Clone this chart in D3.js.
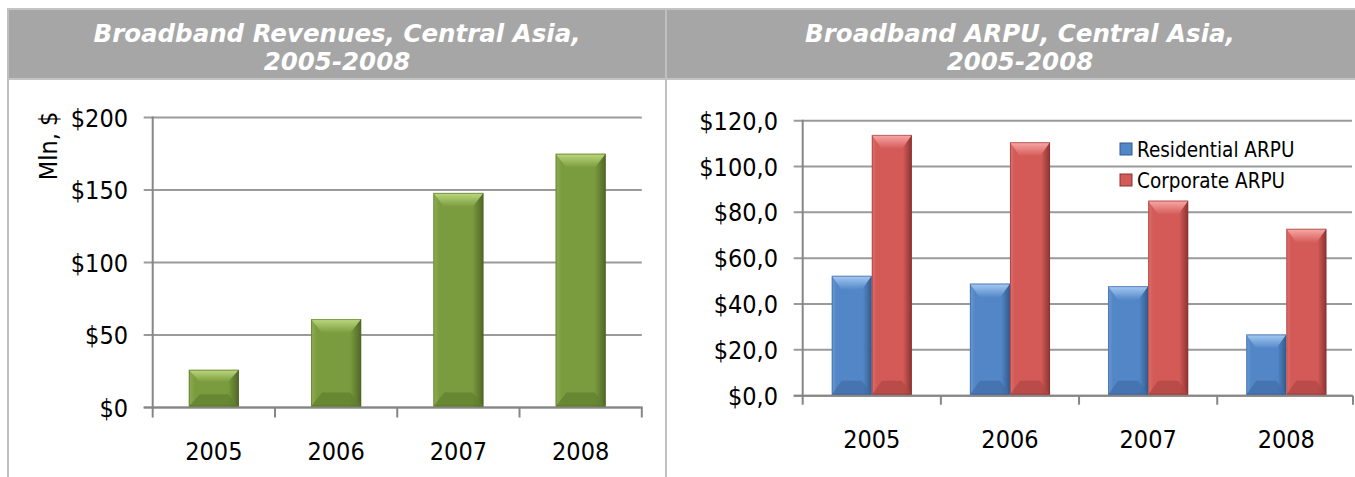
<!DOCTYPE html>
<html>
<head>
<meta charset="utf-8">
<script src="https://cdn.jsdelivr.net/npm/d3@7"></script>
<style>
  html, body { margin: 0; padding: 0; background: #ffffff; }
  svg { display: block; }
  .tick-label { font-family: "DejaVu Sans Condensed", "DejaVu Sans", sans-serif; font-stretch: condensed; fill: #000; }
</style>
</head>
<body>
<svg id="chart" width="1355" height="477"></svg>
<script>
// ---------- DATA ----------
const categories = ["2005", "2006", "2007", "2008"];
const revenues = [26, 61, 148, 175];             // Mln $
const residentialARPU = [52.3, 48.9, 47.8, 26.7];
const corporateARPU = [113.8, 110.6, 85.1, 72.8];
const seriesNames = ["Residential ARPU", "Corporate ARPU"];
const leftTicks = [0, 50, 100, 150, 200];
const rightTicks = [0, 20, 40, 60, 80, 100, 120];
const leftTitle = ["Broadband Revenues, Central Asia,", "2005-2008"];
const rightTitle = ["Broadband ARPU, Central Asia,", "2005-2008"];
const leftYTitle = "Mln, $";

// ---------- SETUP ----------
const svg = d3.select("#chart");
const W = 1355, H = 477;

const defs = svg.append("defs");
const palettes = {
  green: { light: "#bcd97e", main: "#7b9b3f", dark: "#4f6625", side: "#8fae52", bottom: "#62802f" },
  blue:  { light: "#a6cbf5", main: "#5286c6", dark: "#335a8c", side: "#6b9bd6", bottom: "#416ea8" },
  red:   { light: "#f9aaa7", main: "#d35a57", dark: "#8a3331", side: "#de706d", bottom: "#b04744" }
};
Object.entries(palettes).forEach(([k, p]) => {
  const g = defs.append("linearGradient").attr("id", "h-" + k).attr("x1", 0).attr("x2", 1).attr("y1", 0).attr("y2", 0);
  g.append("stop").attr("offset", "0").attr("stop-color", p.side);
  g.append("stop").attr("offset", "0.12").attr("stop-color", p.main);
  g.append("stop").attr("offset", "0.78").attr("stop-color", p.main);
  g.append("stop").attr("offset", "1").attr("stop-color", p.dark);
  const t = defs.append("linearGradient").attr("id", "t-" + k).attr("x1", 0).attr("x2", 0).attr("y1", 0).attr("y2", 1);
  t.append("stop").attr("offset", "0").attr("stop-color", p.light);
  t.append("stop").attr("offset", "1").attr("stop-color", p.main);
});

function bevelBar(g, x, y, w, h, pal) {
  const p = palettes[pal];
  const b = Math.min(11, w / 4), bv = Math.min(14, h / 3);
  g.append("rect").attr("x", x).attr("y", y).attr("width", w).attr("height", h)
    .attr("fill", `url(#h-${pal})`);
  g.append("polygon")
    .attr("points", [[x, y], [x + w, y], [x + w - b, y + bv], [x + b, y + bv]].map(d => d.join(",")).join(" "))
    .attr("fill", `url(#t-${pal})`);
  g.append("polygon")
    .attr("points", [[x, y + h], [x + w, y + h], [x + w - b, y + h - bv], [x + b, y + h - bv]].map(d => d.join(",")).join(" "))
    .attr("fill", p.bottom).attr("opacity", 0.75);
  g.append("rect").attr("x", x + 0.5).attr("y", y + 0.5).attr("width", Math.max(0, w - 1)).attr("height", Math.max(0, h - 1))
    .attr("fill", "none").attr("stroke", p.dark).attr("stroke-opacity", 0.55).attr("stroke-width", 1);
}

// ---------- FRAME / HEADER ----------
svg.append("rect").attr("x", 8).attr("y", 9).attr("width", W - 8 + 2).attr("height", 70)
  .attr("fill", "#a6a6a6").attr("stroke", "#c4c4c4").attr("stroke-width", 2);
svg.append("line").attr("x1", 8).attr("x2", 8).attr("y1", 9).attr("y2", H)
  .attr("stroke", "#c0c0c0").attr("stroke-width", 2);
svg.append("line").attr("x1", 666).attr("x2", 666).attr("y1", 9).attr("y2", H)
  .attr("stroke", "#c0c0c0").attr("stroke-width", 2);

function title(lines, cx) {
  const t = svg.append("text")
    .attr("font-family", '"DejaVu Sans", Verdana, sans-serif')
    .attr("font-weight", "bold").attr("font-style", "italic")
    .attr("font-size", 24.5).attr("fill", "#ffffff").attr("text-anchor", "middle");
  lines.forEach((l, i) => t.append("tspan").attr("x", cx).attr("y", i === 0 ? 42 : 70).text(l));
}
title(leftTitle, 337);
title(rightTitle, 1020);

// ---------- LEFT CHART ----------
const L = { x0: 152.7, x1: 641.8, y0: 407.5, y1: 117.5 };
const xL = d3.scaleBand().domain(categories).range([L.x0, L.x1]).paddingInner(0.59).paddingOuter(0.295);
const yL = d3.scaleLinear().domain([0, 200]).range([L.y0, L.y1]);
const gL = svg.append("g");

gL.selectAll("line.grid").data(leftTicks).join("line")
  .attr("x1", L.x0 - 9).attr("x2", L.x1).attr("y1", d => yL(d)).attr("y2", d => yL(d))
  .attr("stroke", "#9a9a9a").attr("stroke-width", 2);
gL.append("line").attr("x1", L.x0).attr("x2", L.x0).attr("y1", yL(200) - 1).attr("y2", L.y0 + 10)
  .attr("stroke", "#868686").attr("stroke-width", 2);
const boundsL = categories.map(c => xL(c) - xL.step() * xL.paddingInner() / 2).concat([L.x1]);
gL.selectAll("line.xt").data(boundsL.slice(1)).join("line")
  .attr("x1", d => d).attr("x2", d => d).attr("y1", L.y0).attr("y2", L.y0 + 10)
  .attr("stroke", "#868686").attr("stroke-width", 2);
gL.append("line").attr("x1", L.x0 - 9).attr("x2", L.x1 + 1).attr("y1", L.y0).attr("y2", L.y0)
  .attr("stroke", "#868686").attr("stroke-width", 2);

categories.forEach((c, i) => {
  bevelBar(gL, xL(c), yL(revenues[i]), xL.bandwidth(), L.y0 - yL(revenues[i]) - 1, "green");
});

gL.selectAll("text.yl").data(leftTicks).join("text")
  .attr("class", "tick-label").attr("x", 128).attr("y", d => yL(d)).attr("dy", "0.36em")
  .attr("text-anchor", "end").attr("font-size", 25).text(d => "$" + d);
gL.selectAll("text.xl").data(categories).join("text")
  .attr("class", "tick-label").attr("x", d => xL(d) + xL.bandwidth() / 2).attr("y", 460)
  .attr("text-anchor", "middle").attr("font-size", 25).text(d => d);
gL.append("text").attr("class", "tick-label").attr("font-size", 25).attr("text-anchor", "middle")
  .attr("transform", "translate(57,146) rotate(-90)").text(leftYTitle);

// ---------- RIGHT CHART ----------
const R = { x0: 802.7, x1: 1355.4, y0: 395.7, y1: 120.7 };
const xR = d3.scaleBand().domain(categories).range([R.x0, R.x1]).paddingInner(0.42).paddingOuter(0.21);
const xS = d3.scaleBand().domain(seriesNames).range([0, xR.bandwidth()]);
const yR = d3.scaleLinear().domain([0, 120]).range([R.y0, R.y1]);
const gR = svg.append("g");

gR.selectAll("line.grid").data(rightTicks).join("line")
  .attr("x1", R.x0 - 9).attr("x2", 1352).attr("y1", d => yR(d)).attr("y2", d => yR(d))
  .attr("stroke", "#9a9a9a").attr("stroke-width", 2);
gR.append("line").attr("x1", R.x0).attr("x2", R.x0).attr("y1", yR(120) - 1).attr("y2", R.y0 + 9)
  .attr("stroke", "#868686").attr("stroke-width", 2);
const boundsR = categories.map(c => xR(c) - xR.step() * xR.paddingInner() / 2);
gR.selectAll("line.xt").data(boundsR.slice(1).concat([1353])).join("line")
  .attr("x1", d => d).attr("x2", d => d).attr("y1", R.y0).attr("y2", R.y0 + 9)
  .attr("stroke", "#868686").attr("stroke-width", 2);
gR.append("line").attr("x1", R.x0 - 9).attr("x2", 1353).attr("y1", R.y0).attr("y2", R.y0)
  .attr("stroke", "#868686").attr("stroke-width", 2);

const seriesData = [residentialARPU, corporateARPU];
const seriesPal = ["blue", "red"];
categories.forEach((c, i) => {
  seriesNames.forEach((s, j) => {
    const v = seriesData[j][i];
    bevelBar(gR, xR(c) + xS(s), yR(v), xS.bandwidth(), R.y0 - yR(v) - 1, seriesPal[j]);
  });
});

const fmt = d => "$" + d3.format(".1f")(d).replace(".", ",");
gR.selectAll("text.yl").data(rightTicks).join("text")
  .attr("class", "tick-label").attr("x", 778).attr("y", d => yR(d)).attr("dy", "0.36em")
  .attr("text-anchor", "end").attr("font-size", 25).text(fmt);
gR.selectAll("text.xl").data(categories).join("text")
  .attr("class", "tick-label").attr("x", d => xR(d) + xR.bandwidth() / 2).attr("y", 448)
  .attr("text-anchor", "middle").attr("font-size", 25).text(d => d);

const leg = gR.append("g");
seriesNames.forEach((s, j) => {
  const yy = 143 + j * 31;
  leg.append("rect").attr("x", 1120).attr("y", yy).attr("width", 12).attr("height", 12)
    .attr("fill", palettes[seriesPal[j]].main).attr("stroke", palettes[seriesPal[j]].dark).attr("stroke-width", 1);
  leg.append("text").attr("class", "tick-label").attr("x", 1137).attr("y", yy + 13.5)
    .attr("font-size", 20.5).text(s);
});
</script>
</body>
</html>
